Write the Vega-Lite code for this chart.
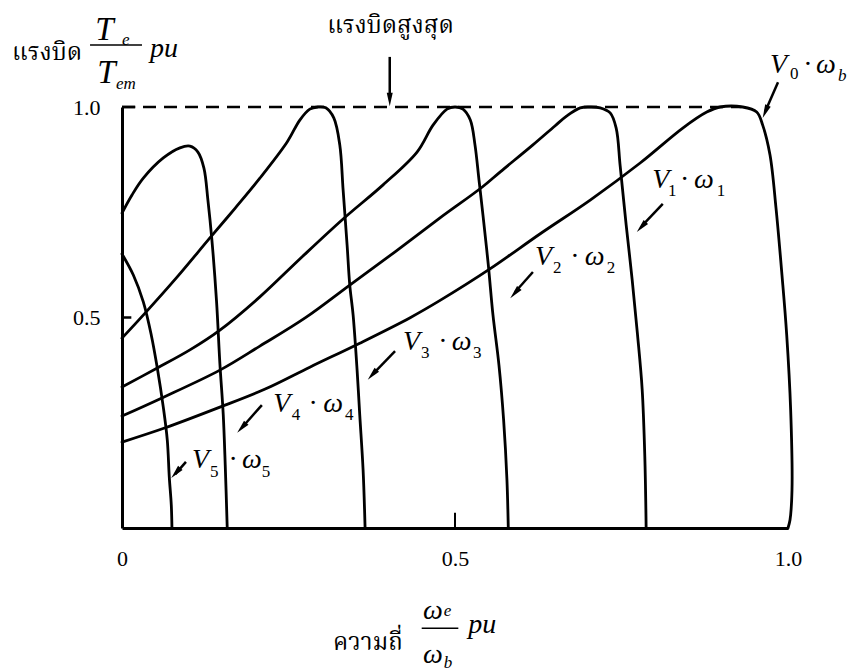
{
  "$schema": "https://vega.github.io/schema/vega-lite/v6.json",
  "autosize": "none",
  "width": 666,
  "height": 421,
  "padding": {"left": 122, "top": 107, "right": 67, "bottom": 144},
  "background": "white",
  "config": {"view": {"stroke": null}},
  "datasets": {
    "curves": [
      {"c": "V0", "i": 0, "w": 0, "t": 0.204}, {"c": "V0", "i": 1, "w": 0.065, "t": 0.238}, {"c": "V0", "i": 2, "w": 0.147, "t": 0.287}, {"c": "V0", "i": 3, "w": 0.215, "t": 0.33}, {"c": "V0", "i": 4, "w": 0.282, "t": 0.382}, {"c": "V0", "i": 5, "w": 0.357, "t": 0.439}, {"c": "V0", "i": 6, "w": 0.432, "t": 0.499}, {"c": "V0", "i": 7, "w": 0.477, "t": 0.54}, {"c": "V0", "i": 8, "w": 0.553, "t": 0.616}, {"c": "V0", "i": 9, "w": 0.628, "t": 0.699}, {"c": "V0", "i": 10, "w": 0.703, "t": 0.779}, {"c": "V0", "i": 11, "w": 0.778, "t": 0.867}, {"c": "V0", "i": 12, "w": 0.842, "t": 0.95}, {"c": "V0", "i": 13, "w": 0.878, "t": 0.988}, {"c": "V0", "i": 14, "w": 0.898, "t": 1.0}, {"c": "V0", "i": 15, "w": 0.932, "t": 1.0}, {"c": "V0", "i": 16, "w": 0.953, "t": 0.988}, {"c": "V0", "i": 17, "w": 0.962, "t": 0.957}, {"c": "V0", "i": 18, "w": 0.973, "t": 0.886}, {"c": "V0", "i": 19, "w": 0.982, "t": 0.76}, {"c": "V0", "i": 20, "w": 0.991, "t": 0.6}, {"c": "V0", "i": 21, "w": 0.998, "t": 0.46}, {"c": "V0", "i": 22, "w": 1.004, "t": 0.28}, {"c": "V0", "i": 23, "w": 1.006, "t": 0.09}, {"c": "V0", "i": 24, "w": 1.003, "t": 0.019}, {"c": "V0", "i": 25, "w": 1.0, "t": 0},
      {"c": "V1", "i": 0, "w": 0, "t": 0.266}, {"c": "V1", "i": 1, "w": 0.06, "t": 0.309}, {"c": "V1", "i": 2, "w": 0.147, "t": 0.375}, {"c": "V1", "i": 3, "w": 0.207, "t": 0.432}, {"c": "V1", "i": 4, "w": 0.275, "t": 0.499}, {"c": "V1", "i": 5, "w": 0.342, "t": 0.577}, {"c": "V1", "i": 6, "w": 0.41, "t": 0.656}, {"c": "V1", "i": 7, "w": 0.477, "t": 0.736}, {"c": "V1", "i": 8, "w": 0.541, "t": 0.81}, {"c": "V1", "i": 9, "w": 0.568, "t": 0.846}, {"c": "V1", "i": 10, "w": 0.617, "t": 0.91}, {"c": "V1", "i": 11, "w": 0.65, "t": 0.955}, {"c": "V1", "i": 12, "w": 0.668, "t": 0.979}, {"c": "V1", "i": 13, "w": 0.688, "t": 0.998}, {"c": "V1", "i": 14, "w": 0.703, "t": 1.0}, {"c": "V1", "i": 15, "w": 0.718, "t": 0.998}, {"c": "V1", "i": 16, "w": 0.733, "t": 0.986}, {"c": "V1", "i": 17, "w": 0.742, "t": 0.95}, {"c": "V1", "i": 18, "w": 0.748, "t": 0.86}, {"c": "V1", "i": 19, "w": 0.757, "t": 0.72}, {"c": "V1", "i": 20, "w": 0.766, "t": 0.59}, {"c": "V1", "i": 21, "w": 0.774, "t": 0.46}, {"c": "V1", "i": 22, "w": 0.781, "t": 0.33}, {"c": "V1", "i": 23, "w": 0.785, "t": 0.17}, {"c": "V1", "i": 24, "w": 0.787, "t": 0},
      {"c": "V2", "i": 0, "w": 0, "t": 0.335}, {"c": "V2", "i": 1, "w": 0.053, "t": 0.38}, {"c": "V2", "i": 2, "w": 0.102, "t": 0.423}, {"c": "V2", "i": 3, "w": 0.147, "t": 0.47}, {"c": "V2", "i": 4, "w": 0.207, "t": 0.549}, {"c": "V2", "i": 5, "w": 0.267, "t": 0.639}, {"c": "V2", "i": 6, "w": 0.332, "t": 0.734}, {"c": "V2", "i": 7, "w": 0.392, "t": 0.815}, {"c": "V2", "i": 8, "w": 0.443, "t": 0.893}, {"c": "V2", "i": 9, "w": 0.467, "t": 0.957}, {"c": "V2", "i": 10, "w": 0.488, "t": 0.995}, {"c": "V2", "i": 11, "w": 0.5, "t": 1.0}, {"c": "V2", "i": 12, "w": 0.512, "t": 0.995}, {"c": "V2", "i": 13, "w": 0.523, "t": 0.969}, {"c": "V2", "i": 14, "w": 0.53, "t": 0.91}, {"c": "V2", "i": 15, "w": 0.536, "t": 0.827}, {"c": "V2", "i": 16, "w": 0.542, "t": 0.743}, {"c": "V2", "i": 17, "w": 0.55, "t": 0.625}, {"c": "V2", "i": 18, "w": 0.557, "t": 0.506}, {"c": "V2", "i": 19, "w": 0.566, "t": 0.387}, {"c": "V2", "i": 20, "w": 0.573, "t": 0.257}, {"c": "V2", "i": 21, "w": 0.578, "t": 0.114}, {"c": "V2", "i": 22, "w": 0.58, "t": 0},
      {"c": "V3", "i": 0, "w": 0, "t": 0.451}, {"c": "V3", "i": 1, "w": 0.035, "t": 0.511}, {"c": "V3", "i": 2, "w": 0.08, "t": 0.591}, {"c": "V3", "i": 3, "w": 0.132, "t": 0.689}, {"c": "V3", "i": 4, "w": 0.17, "t": 0.76}, {"c": "V3", "i": 5, "w": 0.207, "t": 0.831}, {"c": "V3", "i": 6, "w": 0.248, "t": 0.917}, {"c": "V3", "i": 7, "w": 0.267, "t": 0.969}, {"c": "V3", "i": 8, "w": 0.282, "t": 0.995}, {"c": "V3", "i": 9, "w": 0.294, "t": 1.0}, {"c": "V3", "i": 10, "w": 0.306, "t": 0.998}, {"c": "V3", "i": 11, "w": 0.318, "t": 0.974}, {"c": "V3", "i": 12, "w": 0.327, "t": 0.91}, {"c": "V3", "i": 13, "w": 0.332, "t": 0.803}, {"c": "V3", "i": 14, "w": 0.338, "t": 0.672}, {"c": "V3", "i": 15, "w": 0.342, "t": 0.577}, {"c": "V3", "i": 16, "w": 0.347, "t": 0.506}, {"c": "V3", "i": 17, "w": 0.353, "t": 0.375}, {"c": "V3", "i": 18, "w": 0.357, "t": 0.268}, {"c": "V3", "i": 19, "w": 0.362, "t": 0.138}, {"c": "V3", "i": 20, "w": 0.365, "t": 0},
      {"c": "V4", "i": 0, "w": 0, "t": 0.748}, {"c": "V4", "i": 1, "w": 0.015, "t": 0.791}, {"c": "V4", "i": 2, "w": 0.032, "t": 0.831}, {"c": "V4", "i": 3, "w": 0.062, "t": 0.879}, {"c": "V4", "i": 4, "w": 0.087, "t": 0.903}, {"c": "V4", "i": 5, "w": 0.102, "t": 0.907}, {"c": "V4", "i": 6, "w": 0.114, "t": 0.893}, {"c": "V4", "i": 7, "w": 0.123, "t": 0.855}, {"c": "V4", "i": 8, "w": 0.129, "t": 0.779}, {"c": "V4", "i": 9, "w": 0.135, "t": 0.684}, {"c": "V4", "i": 10, "w": 0.142, "t": 0.537}, {"c": "V4", "i": 11, "w": 0.147, "t": 0.39}, {"c": "V4", "i": 12, "w": 0.152, "t": 0.27}, {"c": "V4", "i": 13, "w": 0.155, "t": 0.15}, {"c": "V4", "i": 14, "w": 0.158, "t": 0},
      {"c": "V5", "i": 0, "w": 0, "t": 0.651}, {"c": "V5", "i": 1, "w": 0.017, "t": 0.601}, {"c": "V5", "i": 2, "w": 0.032, "t": 0.537}, {"c": "V5", "i": 3, "w": 0.044, "t": 0.458}, {"c": "V5", "i": 4, "w": 0.053, "t": 0.38}, {"c": "V5", "i": 5, "w": 0.062, "t": 0.287}, {"c": "V5", "i": 6, "w": 0.068, "t": 0.209}, {"c": "V5", "i": 7, "w": 0.071, "t": 0.121}, {"c": "V5", "i": 8, "w": 0.074, "t": 0.055}, {"c": "V5", "i": 9, "w": 0.075, "t": 0}
    ],
    "maxline": [{"w": 0, "w2": 0.93, "t": 1.0}],
    "bars": [{"w": -0.048, "w2": 0.03, "t": 1.147}, {"w": 0.45, "w2": 0.505, "t": -0.238}],
    "xticks": [{"w": 0.5, "t": 0, "t2": 0.036}],
    "yticks": [{"w": 0, "w2": 0.014, "t": 0.5}, {"w": 0, "w2": 0.02, "t": 1.0}],
    "shafts": [
      {"w": 0.402, "t": 1.119, "w2": 0.402, "t2": 1.03},
      {"w": 0.985, "t": 1.059, "w2": 0.966, "t2": 0.99},
      {"w": 0.812, "t": 0.77, "w2": 0.781, "t2": 0.718},
      {"w": 0.617, "t": 0.608, "w2": 0.59, "t2": 0.56},
      {"w": 0.41, "t": 0.42, "w2": 0.377, "t2": 0.366},
      {"w": 0.21, "t": 0.292, "w2": 0.181, "t2": 0.24},
      {"w": 0.096, "t": 0.157, "w2": 0.08, "t2": 0.128}
    ],
    "tipDown": [{"w": 0.402, "t": 1.002}],
    "tipV0": [{"w": 0.962, "t": 0.974}],
    "tipsV": [
      {"w": 0.773, "t": 0.703}, {"w": 0.583, "t": 0.546}, {"w": 0.369, "t": 0.352}, {"w": 0.173, "t": 0.226}, {"w": 0.074, "t": 0.119}
    ],
    "thai": [
      {"w": -0.165, "t": 1.112, "s": "แรงบิด"},
      {"w": 0.308, "t": 1.176, "s": "แรงบิดสูงสุด"},
      {"w": 0.317, "t": -0.29, "s": "ความถี่"}
    ],
    "bigT": [
      {"w": -0.04, "t": 1.159, "s": "T"}, {"w": -0.037, "t": 1.057, "s": "T"}
    ],
    "math": [
      {"w": 0.042, "t": 1.119, "s": "pu"},
      {"w": 0.452, "t": -0.216, "s": "ω"}, {"w": 0.452, "t": -0.321, "s": "ω"}, {"w": 0.52, "t": -0.249, "s": "pu"},
      {"w": 0.973, "t": 1.081, "s": "V"}, {"w": 1.024, "t": 1.081, "s": "·"}, {"w": 1.042, "t": 1.081, "s": "ω"},
      {"w": 0.796, "t": 0.808, "s": "V"}, {"w": 0.839, "t": 0.808, "s": "·"}, {"w": 0.859, "t": 0.808, "s": "ω"},
      {"w": 0.62, "t": 0.625, "s": "V"}, {"w": 0.674, "t": 0.625, "s": "·"}, {"w": 0.695, "t": 0.625, "s": "ω"},
      {"w": 0.422, "t": 0.423, "s": "V"}, {"w": 0.476, "t": 0.423, "s": "·"}, {"w": 0.495, "t": 0.423, "s": "ω"},
      {"w": 0.227, "t": 0.276, "s": "V"}, {"w": 0.281, "t": 0.276, "s": "·"}, {"w": 0.302, "t": 0.276, "s": "ω"},
      {"w": 0.105, "t": 0.143, "s": "V"}, {"w": 0.161, "t": 0.143, "s": "·"}, {"w": 0.18, "t": 0.143, "s": "ω"}
    ],
    "subLetters": [
      {"w": 0.0, "t": 1.148, "s": "e"}, {"w": -0.009, "t": 1.043, "s": "em"},
      {"w": 0.483, "t": -0.209, "s": "e"}, {"w": 0.483, "t": -0.333, "s": "b"},
      {"w": 1.075, "t": 1.062, "s": "b"}
    ],
    "subDigits": [
      {"w": 1.003, "t": 1.067, "s": "0"},
      {"w": 0.82, "t": 0.789, "s": "1"}, {"w": 0.893, "t": 0.789, "s": "1"},
      {"w": 0.647, "t": 0.606, "s": "2"}, {"w": 0.728, "t": 0.606, "s": "2"},
      {"w": 0.449, "t": 0.404, "s": "3"}, {"w": 0.527, "t": 0.404, "s": "3"},
      {"w": 0.255, "t": 0.257, "s": "4"}, {"w": 0.335, "t": 0.257, "s": "4"},
      {"w": 0.132, "t": 0.121, "s": "5"}, {"w": 0.21, "t": 0.121, "s": "5"}
    ]
  },
  "encoding": {
    "x": {
      "field": "w", "type": "quantitative",
      "scale": {"domain": [0, 1], "nice": false, "zero": false},
      "axis": {
        "title": null, "grid": false, "ticks": false, "values": [0, 0.5, 1],
        "labelExpr": "datum.value == 0 ? '0' : format(datum.value, '.1f')",
        "domainColor": "black", "domainWidth": 3,
        "labelFont": "Liberation Serif", "labelFontSize": 22, "labelColor": "black",
        "labelPadding": 20, "labelFlush": false, "labelOverlap": false, "labelBound": false
      }
    },
    "y": {
      "field": "t", "type": "quantitative",
      "scale": {"domain": [0, 1], "nice": false, "zero": false},
      "axis": {
        "title": null, "grid": false, "ticks": false, "values": [0.5, 1], "format": ".1f",
        "domainColor": "black", "domainWidth": 3,
        "labelFont": "Liberation Serif", "labelFontSize": 22, "labelColor": "black",
        "labelPadding": 22, "labelFlush": false, "labelOverlap": false, "labelBound": false
      }
    }
  },
  "layer": [
    {
      "data": {"name": "curves"},
      "mark": {"type": "line", "color": "black", "strokeWidth": 2.8, "interpolate": "catmull-rom", "strokeCap": "round", "strokeJoin": "round"},
      "encoding": {
        "detail": {"field": "c"},
        "order": {"field": "i", "type": "quantitative"}
      }
    },
    {
      "data": {"name": "maxline"},
      "mark": {"type": "rule", "color": "black", "strokeWidth": 2.5, "strokeDash": [13, 8]},
      "encoding": {"x2": {"field": "w2"}}
    },
    {
      "data": {"name": "bars"},
      "mark": {"type": "rule", "color": "black", "strokeWidth": 1.5},
      "encoding": {"x2": {"field": "w2"}}
    },
    {
      "data": {"name": "xticks"},
      "mark": {"type": "rule", "color": "black", "strokeWidth": 2},
      "encoding": {"y2": {"field": "t2"}}
    },
    {
      "data": {"name": "yticks"},
      "mark": {"type": "rule", "color": "black", "strokeWidth": 2.5},
      "encoding": {"x2": {"field": "w2"}}
    },
    {
      "data": {"name": "shafts"},
      "mark": {"type": "rule", "color": "black", "strokeWidth": 2.5},
      "encoding": {"x2": {"field": "w2"}, "y2": {"field": "t2"}}
    },
    {
      "data": {"name": "tipDown"},
      "mark": {"type": "point", "shape": "M0,0L0.4,1.8L-0.4,1.8Z", "filled": true, "color": "black", "opacity": 1, "size": 225, "angle": 180},
      "encoding": {}
    },
    {
      "data": {"name": "tipV0"},
      "mark": {"type": "point", "shape": "M0,0L0.4,1.8L-0.4,1.8Z", "filled": true, "color": "black", "opacity": 1, "size": 225, "angle": 203},
      "encoding": {}
    },
    {
      "data": {"name": "tipsV"},
      "mark": {"type": "point", "shape": "M0,0L0.4,1.8L-0.4,1.8Z", "filled": true, "color": "black", "opacity": 1, "size": 225, "angle": 222},
      "encoding": {}
    },
    {
      "data": {"name": "thai"},
      "mark": {"type": "text", "align": "left", "baseline": "alphabetic", "font": "Noto Serif Thai, Noto Sans Thai, Norasi, Garuda, Loma, Tlwg Typo, Liberation Serif, serif", "fontSize": 24, "color": "black"},
      "encoding": {"text": {"field": "s"}}
    },
    {
      "data": {"name": "bigT"},
      "mark": {"type": "text", "align": "left", "baseline": "alphabetic", "font": "Liberation Serif", "fontStyle": "italic", "fontSize": 33, "color": "black"},
      "encoding": {"text": {"field": "s"}}
    },
    {
      "data": {"name": "math"},
      "mark": {"type": "text", "align": "left", "baseline": "alphabetic", "font": "Liberation Serif", "fontStyle": "italic", "fontSize": 28, "color": "black"},
      "encoding": {"text": {"field": "s"}}
    },
    {
      "data": {"name": "subLetters"},
      "mark": {"type": "text", "align": "left", "baseline": "alphabetic", "font": "Liberation Serif", "fontStyle": "italic", "fontSize": 17, "color": "black"},
      "encoding": {"text": {"field": "s"}}
    },
    {
      "data": {"name": "subDigits"},
      "mark": {"type": "text", "align": "left", "baseline": "alphabetic", "font": "Liberation Serif", "fontSize": 17, "color": "black"},
      "encoding": {"text": {"field": "s"}}
    }
  ]
}
